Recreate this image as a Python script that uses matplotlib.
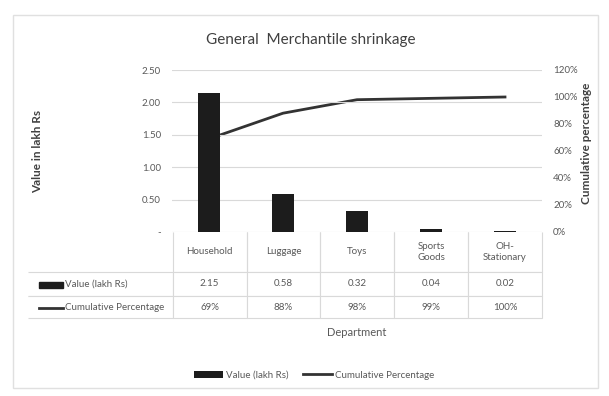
import numpy as np
import matplotlib.pyplot as plt
from matplotlib.patches import Rectangle
from matplotlib.lines import Line2D
from matplotlib.ticker import FuncFormatter

plt.rcParams['font.family'] = ['Lato', 'DejaVu Sans']

departments = ['Household', 'Luggage', 'Toys', 'Sports\nGoods', 'OH-\nStationary']
values = [2.15, 0.58, 0.32, 0.04, 0.02]
cum_pct = [69, 88, 98, 99, 100]
value_labels = ['2.15', '0.58', '0.32', '0.04', '0.02']
pct_labels = ['69%', '88%', '98%', '99%', '100%']

W, H = 609, 396
fig = plt.figure(figsize=(W / 100, H / 100), dpi=100)

def fx(px):
    return px / W

def fy(py):
    return 1 - py / H

txt = '#595959'
grid = '#d9d9d9'

# outer chart frame
fig.patches.append(Rectangle((fx(13), fy(388)), fx(598) - fx(13), fy(15) - fy(388),
                             transform=fig.transFigure, fill=False, edgecolor='#e0e0e0', lw=1))

ax = fig.add_axes([fx(172), fy(232), fx(542) - fx(172), fy(70) - fy(232)])
ax2 = ax.twinx()

x = np.arange(len(departments))
ax.bar(x, values, width=0.31, color='#1c1c1c', label='Value (lakh Rs)', zorder=3)
ax2.plot(x, cum_pct, color='#333333', lw=2, label='Cumulative Percentage')

ax.set_zorder(ax2.get_zorder() + 1)
ax.patch.set_visible(False)

ax.set_xlim(-0.5, len(departments) - 0.5)
ax.set_ylim(0, 2.5)
ax.set_yticks(np.arange(0, 2.51, 0.5))
ax.yaxis.set_major_formatter(FuncFormatter(lambda v, p: '-' if v == 0 else '%.2f' % v))
ax2.set_ylim(0, 120)
ax2.set_yticks(np.arange(0, 121, 20))
ax2.yaxis.set_major_formatter(FuncFormatter(lambda v, p: '%d%%' % v))

ax.grid(axis='y', color=grid, lw=0.8, zorder=0)
ax.set_xticks([])
for a in (ax, ax2):
    for s in a.spines.values():
        s.set_visible(False)
    a.tick_params(length=0, labelsize=7, labelcolor=txt)
ax.tick_params(axis='y', pad=8)
ax2.tick_params(axis='y', pad=8)

fig.text(fx(311), fy(40), 'General  Merchantile shrinkage', ha='center', va='center',
         fontsize=11, color='#404040')
fig.text(fx(38), fy(151), 'Value in lakh Rs', rotation=90, ha='center', va='center',
         fontsize=8.5, color='#404040', fontweight='bold')
fig.text(fx(587), fy(143), 'Cumulative percentage', rotation=90, ha='center', va='center',
         fontsize=8.5, color='#404040', fontweight='bold')
fig.text(fx(357), fy(333), 'Department', ha='center', va='center', fontsize=8, color=txt)

# data table under the axes
cells = [[''] + departments, [''] + value_labels, [''] + pct_labels]
tbl = ax.table(cellText=cells, cellLoc='center',
               colWidths=[145] + [74] * len(departments),
               bbox=[(28 - 172) / 370, (232 - 318) / 162, (542 - 28) / 370, 86 / 162])
tbl.auto_set_font_size(False)
row_h = [40, 24, 22]
for (r, c), cell in tbl.get_celld().items():
    cell.set_height(row_h[r])
    cell.set_edgecolor(grid)
    cell.set_linewidth(0.8)
    cell.get_text().set_fontsize(7)
    cell.get_text().set_color(txt)
    if r == 0:
        cell.visible_edges = '' if c == 0 else 'LRB'
    elif c == 0:
        cell.visible_edges = 'TRB'

# row labels with legend keys
label_rows = [('Value (lakh Rs)', 284.5), ('Cumulative Percentage', 307.5)]
fig.patches.append(Rectangle((fx(39), fy(287.5)), fx(63) - fx(39), fy(281.5) - fy(287.5),
                             transform=fig.transFigure, color='#1c1c1c'))
fig.lines.append(Line2D([fx(39), fx(63)], [fy(307.5), fy(307.5)], transform=fig.transFigure,
                        color='#333333', lw=2))
for name, yy in label_rows:
    fig.text(fx(65), fy(yy), name, ha='left', va='center', fontsize=7, color=txt)

h1, l1 = ax.get_legend_handles_labels()
h2, l2 = ax2.get_legend_handles_labels()
fig.legend(h1 + h2, l1 + l2, loc='center', bbox_to_anchor=(fx(314), fy(375)), ncol=2,
           frameon=False, fontsize=7, labelcolor=txt, handlelength=3, columnspacing=1.5,
           handletextpad=0.3)

fig.savefig('out.png', dpi=100)
